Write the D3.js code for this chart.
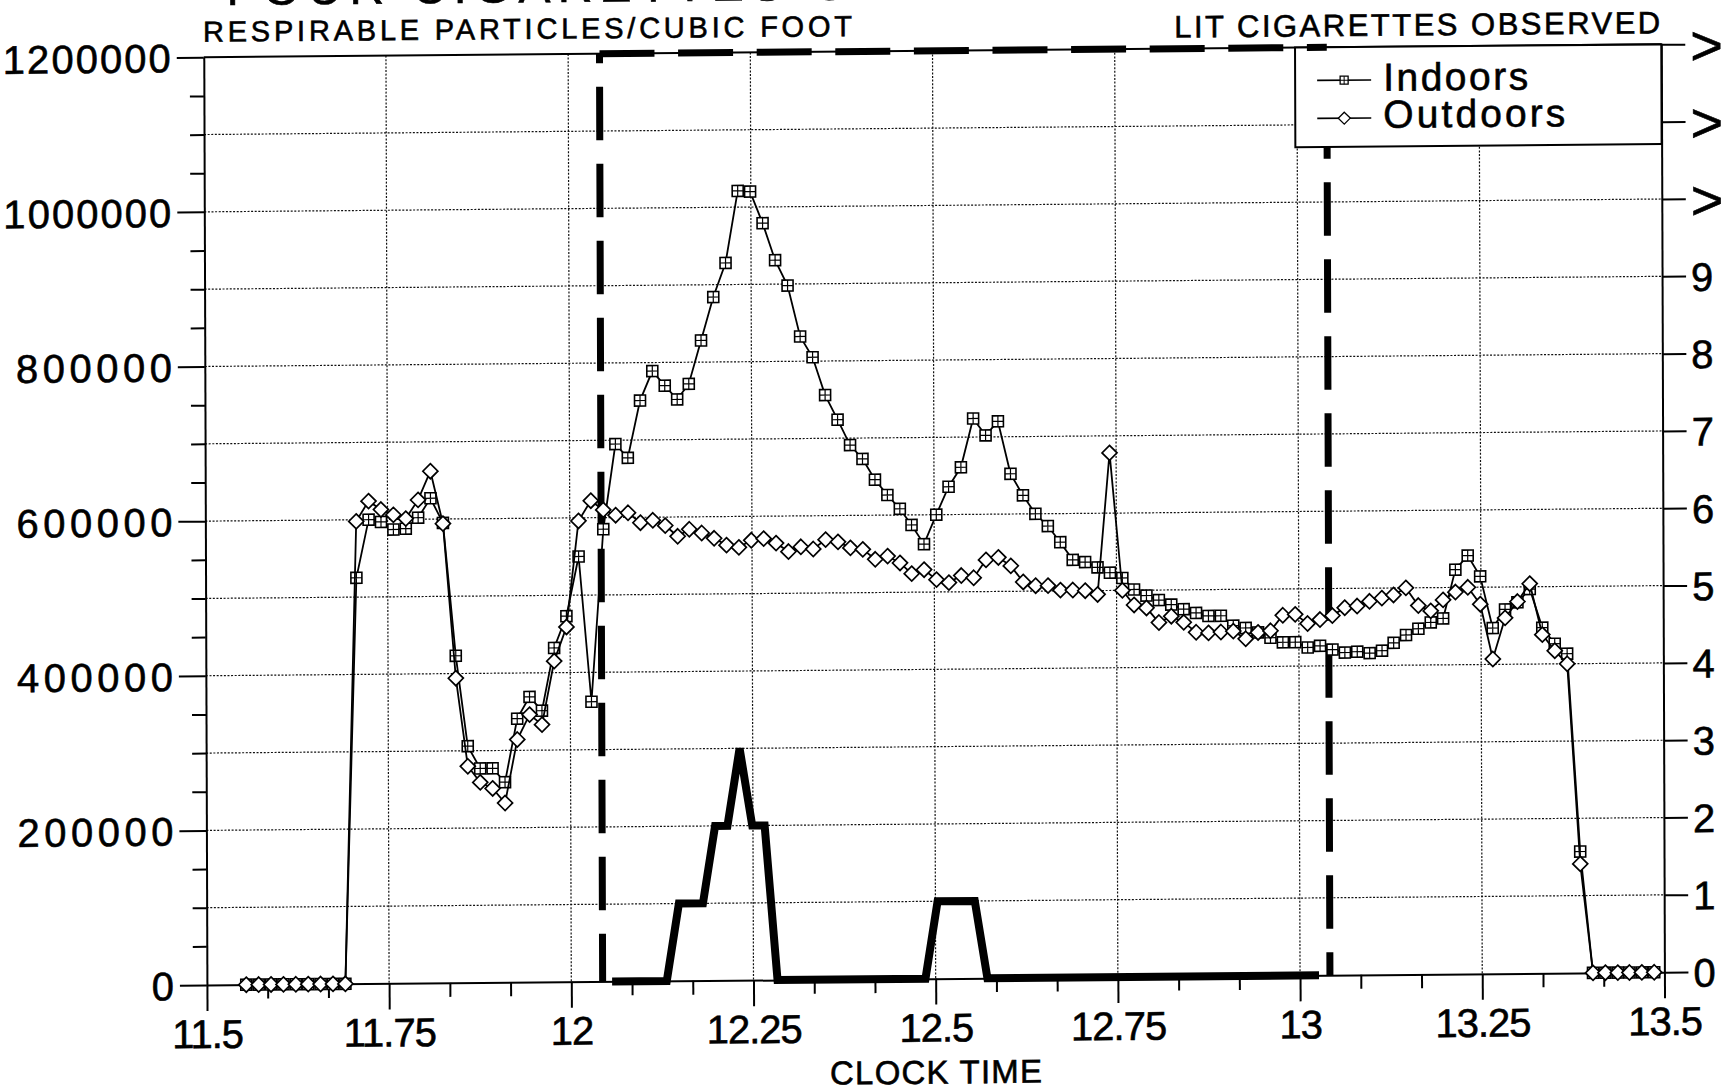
<!DOCTYPE html>
<html>
<head>
<meta charset="utf-8">
<script src="https://cdn.jsdelivr.net/npm/d3@7"></script>
<style>
  body { margin: 0; background: #fff; }
  svg { display: block; font-family: "Liberation Sans", Arial, sans-serif; }
  svg text { fill: #000; stroke: #000; stroke-width: 0.6px; }
</style>
</head>
<body>
<svg id="chart"></svg>
<script>
//constants
const svgW = 1724, svgH = 1091;
const margin = {top: 50.8, left: 205.35};
const width = 1457.5;
const height = 927.8;
// slight tilt of the scanned page
const pageTilt = "matrix(1,-0.00882,0.0034,1,-1.75,8.24)";

//data: one reading per minute (clock time in decimal hours)
const clockTimes = [
  11.554, 11.571, 11.588, 11.605, 11.622, 11.639, 11.656, 11.673, 11.690, 11.707,
  11.724, 11.741, 11.758, 11.775, 11.792, 11.809, 11.826, 11.843, 11.859, 11.876,
  11.893, 11.910, 11.927, 11.944, 11.961, 11.978, 11.995, 12.012, 12.029, 12.046,
  12.063, 12.080, 12.097, 12.114, 12.131, 12.148, 12.164, 12.181, 12.198, 12.215,
  12.232, 12.249, 12.266, 12.283, 12.300, 12.317, 12.334, 12.351, 12.368, 12.385,
  12.402, 12.419, 12.436, 12.453, 12.469, 12.486, 12.503, 12.520, 12.537, 12.554,
  12.571, 12.588, 12.605, 12.622, 12.639, 12.656, 12.673, 12.690, 12.707, 12.724,
  12.741, 12.758, 12.774, 12.791, 12.808, 12.825, 12.842, 12.859, 12.876, 12.893,
  12.910, 12.927, 12.944, 12.961, 12.978, 12.995, 13.012, 13.029, 13.046, 13.063,
  13.080, 13.097, 13.114, 13.130, 13.147, 13.164, 13.181, 13.198, 13.215, 13.232,
  13.249, 13.266, 13.283, 13.300, 13.317, 13.334, 13.351, 13.368, 13.385, 13.402,
  13.419, 13.436, 13.452, 13.469, 13.486
];

const indoors = [
  0, 0, 0, 0, 0, 0, 0, 0, 0, 525000,
  600000, 597000, 587000, 588000, 602000, 627000, 595000, 423000, 306000, 277000,
  277000, 259000, 341000, 369000, 351000, 432000, 473000, 550000, 362000, 585000,
  695000, 677000, 751000, 789000, 770000, 752000, 772000, 828000, 884000, 928000,
  1021000, 1020000, 979000, 931000, 898000, 832000, 805000, 756000, 724000, 691000,
  673000, 646000, 626000, 608000, 587000, 562000, 600000, 636000, 661000, 724000,
  702000, 720000, 652000, 624000, 600000, 584000, 563000, 540000, 537000, 530000,
  523000, 516000, 501000, 493000, 487000, 481000, 475000, 470000, 466000, 466000,
  453000, 450000, 444000, 437000, 431000, 431000, 424000, 426000, 421000, 417000,
  418000, 416000, 419000, 429000, 439000, 447000, 455000, 460000, 523000, 541000,
  514000, 447000, 471000, 480000, 497000, 447000, 426000, 413000, 157000, 0,
  0, 0, 0, 0, 0
];

const outdoors = [
  0, 0, 0, 0, 0, 0, 0, 0, 0, 598000,
  624000, 613000, 606000, 601000, 625000, 662000, 594000, 394000, 280000, 259000,
  251000, 232000, 314000, 346000, 333000, 415000, 459000, 596000, 622000, 610000,
  603000, 606000, 593000, 596000, 589000, 575000, 584000, 579000, 572000, 563000,
  560000, 569000, 571000, 565000, 554000, 560000, 557000, 569000, 566000, 558000,
  556000, 543000, 547000, 538000, 524000, 529000, 516000, 512000, 521000, 518000,
  541000, 544000, 533000, 512000, 507000, 507000, 501000, 501000, 500000, 495000,
  678000, 500000, 481000, 477000, 458000, 466000, 458000, 445000, 444000, 445000,
  446000, 436000, 444000, 446000, 466000, 467000, 455000, 460000, 465000, 475000,
  477000, 483000, 487000, 491000, 500000, 477000, 470000, 484000, 494000, 500000,
  478000, 407000, 460000, 481000, 504000, 438000, 417000, 400000, 141000, 0,
  0, 0, 0, 0, 0
];

// lit cigarettes observed (right axis), vertices of the thick line
const cigTimes = [12.056, 12.131, 12.148, 12.181, 12.198, 12.215, 12.232, 12.249, 12.266, 12.283, 12.486, 12.503, 12.554, 12.571, 13.026];
const cigCounts = [0, 0, 1, 1, 2, 2, 3, 2, 2, 0, 0, 1, 1, 0, 0];

// observation period (dashed box)
const periodStart = 12.043;
const periodEnd = 13.041;

//tick labels
const xTickLabels = ["11.5", "11.75", "12", "12.25", "12.5", "12.75", "13", "13.25", "13.5"];
const leftTickLabels = ["0", "200000", "400000", "600000", "800000", "1000000", "1200000"];
const rightTickLabels = ["0", "1", "2", "3", "4", "5", "6", "7", "8", "9", ">", ">", ">"];

// the plotter font: narrow "1", wide digits
function labelWidth(s) {
    return s.split("").reduce((w, c) => w + (c === "1" ? 12 : c === "." ? 11 : 26), 0);
}

//main
function main() {

    //scales
    let xScale = d3.scaleLinear().domain([11.5, 13.5]).range([0, width]);
    let yScale = d3.scaleLinear().domain([0, 1200000]).range([height, 0]);
    let yRight = d3.scaleLinear().domain([0, 12]).range([height, 0]);

    //canvas
    let svg = d3.select("#chart")
        .attr("width", svgW)
        .attr("height", svgH);
    svg.append("rect").attr("width", svgW).attr("height", svgH).attr("fill", "#fff");

    let page = svg.append("g").attr("transform", pageTilt);
    let g = page.append("g")
        .attr("transform", "translate(" + margin.left + "," + margin.top + ")");

    //grid
    let grid = g.append("g")
        .attr("stroke", "#111")
        .attr("stroke-width", 1.2)
        .attr("stroke-dasharray", "2,1.6");

    grid.selectAll(".hgrid")
        .data(d3.range(1, 12))
        .join("line")
        .attr("class", "hgrid")
        .attr("x1", 0).attr("x2", width)
        .attr("y1", d => yRight(d)).attr("y2", d => yRight(d));

    grid.selectAll(".vgrid")
        .data(xTickLabels.slice(1, -1).map(Number))
        .join("line")
        .attr("class", "vgrid")
        .attr("x1", d => xScale(d)).attr("x2", d => xScale(d))
        .attr("y1", 0).attr("y2", height);

    //frame top
    g.append("line")
        .attr("x1", 0).attr("x2", width)
        .attr("y1", yScale(1200000)).attr("y2", yScale(1200000))
        .attr("stroke", "#000").attr("stroke-width", 2);

    const fitText = function() {
        let s = d3.select(this).text();
        return s.length > 1 ? labelWidth(s) : null;
    };

    //axes
    const majorLeft = leftTickLabels.map(Number);
    let leftAxis = d3.axisLeft(yScale)
        .tickValues(d3.range(0, 1200001, 50000))
        .tickSize(27)
        .tickSizeOuter(0)
        .tickFormat(d => majorLeft.includes(d) ? leftTickLabels[majorLeft.indexOf(d)] : "");

    let gl = g.append("g").call(leftAxis)
        .attr("font-size", null).attr("font-family", null);
    gl.select(".domain").attr("stroke-width", 2);
    gl.selectAll(".tick line")
        .attr("stroke-width", 2)
        .attr("x2", d => majorLeft.includes(d) ? -27 : -14);
    gl.selectAll(".tick text")
        .attr("x", -33)
        .attr("dy", "0.36em")
        .style("font-size", "40px")
        .attr("textLength", fitText);

    const minorX = d3.range(25).map(k => 11.5 + k / 12);
    const labelFor = d => {
        let hit = xTickLabels.find(l => Math.abs(+l - d) < 1e-6);
        return hit === undefined ? "" : hit;
    };
    let bottomAxis = d3.axisBottom(xScale)
        .tickValues(minorX)
        .tickSize(26)
        .tickSizeOuter(0)
        .tickFormat(labelFor);

    let gb = g.append("g")
        .attr("transform", "translate(0," + height + ")")
        .call(bottomAxis)
        .attr("font-size", null).attr("font-family", null);
    gb.select(".domain").attr("stroke-width", 2);
    gb.selectAll(".tick line")
        .attr("stroke-width", 2)
        .attr("y2", d => labelFor(d) ? 26 : 14);
    gb.selectAll(".tick text")
        .attr("y", 63)
        .attr("dy", null)
        .style("font-size", "40px")
        .style("letter-spacing", "-1px");

    let rightAxis = d3.axisRight(yRight)
        .tickValues(d3.range(0, 13))
        .tickSize(24)
        .tickSizeOuter(0)
        .tickPadding(5)
        .tickFormat(d => rightTickLabels[d]);

    let gr = g.append("g")
        .attr("transform", "translate(" + width + ",0)")
        .call(rightAxis)
        .attr("font-size", null).attr("font-family", null);
    gr.select(".domain").attr("stroke-width", 2);
    gr.selectAll(".tick line").attr("stroke-width", 2);
    gr.selectAll(".tick text")
        .attr("dy", "0.36em")
        .style("font-size", d => d > 9 ? "56px" : "40px");

    //observation period, dashed
    let dash = g.append("g").attr("stroke", "#000").attr("stroke-width", 7).attr("fill", "none");
    dash.append("line")
        .attr("x1", xScale(periodStart)).attr("x2", xScale(periodStart))
        .attr("y1", yScale(1200000)).attr("y2", yScale(0))
        .attr("stroke-dasharray", "53.5,23.5")
        .attr("stroke-dashoffset", 44);
    dash.append("line")
        .attr("x1", xScale(periodEnd)).attr("x2", xScale(periodEnd))
        .attr("y1", yScale(1200000)).attr("y2", yScale(0))
        .attr("stroke-dasharray", "53.5,23.5")
        .attr("stroke-dashoffset", 19);

    //cigarettes line
    let cigData = cigTimes.map((t, i) => ({x: t, y: cigCounts[i]}));
    g.append("path")
        .datum(cigData)
        .attr("fill", "none")
        .attr("stroke", "#000")
        .attr("stroke-width", 8)
        .attr("d", d3.line()
            .x(d => xScale(d.x))
            .y(d => yRight(d.y)));

    //particle series
    let line = d3.line()
        .x(d => xScale(d.x))
        .y(d => yScale(d.y));

    let inData = clockTimes.map((t, i) => ({x: t, y: indoors[i]}));
    let outData = clockTimes.map((t, i) => ({x: t, y: outdoors[i]}));

    g.append("path")
        .datum(inData)
        .attr("fill", "none").attr("stroke", "#000").attr("stroke-width", 1.8)
        .attr("d", line);

    let sq = g.append("g").selectAll("g")
        .data(inData)
        .join("g")
        .attr("transform", d => "translate(" + xScale(d.x) + "," + yScale(d.y) + ")");
    sq.append("rect")
        .attr("x", -5.5).attr("y", -5.5).attr("width", 11).attr("height", 11)
        .attr("fill", "#fff").attr("stroke", "#000").attr("stroke-width", 1.6);
    sq.append("path")
        .attr("d", "M-5.5,0H5.5M0,-5.5V5.5")
        .attr("stroke", "#000").attr("stroke-width", 1.2);

    g.append("path")
        .datum(outData)
        .attr("fill", "none").attr("stroke", "#000").attr("stroke-width", 1.8)
        .attr("d", line);

    g.append("g").selectAll("path")
        .data(outData)
        .join("path")
        .attr("d", "M0,-7.5L7.5,0L0,7.5L-7.5,0Z")
        .attr("transform", d => "translate(" + xScale(d.x) + "," + yScale(d.y) + ")")
        .attr("fill", "#fff").attr("stroke", "#000").attr("stroke-width", 1.7);

    //legend
    let lx = width - 366.25;
    let legend = g.append("g").attr("transform", "translate(" + lx + ",0)");
    legend.append("rect")
        .attr("x", 0).attr("y", 0).attr("width", 366.25).attr("height", 99.6)
        .attr("fill", "#fff").attr("stroke", "#000").attr("stroke-width", 2);

    legend.append("line").attr("x1", 22).attr("x2", 76).attr("y1", 33).attr("y2", 33)
        .attr("stroke", "#000").attr("stroke-width", 1.6);
    legend.append("rect").attr("x", 45).attr("y", 29).attr("width", 8).attr("height", 8)
        .attr("fill", "#fff").attr("stroke", "#000").attr("stroke-width", 1.3);
    legend.append("path").attr("d", "M45,33H53M49,29V37")
        .attr("stroke", "#000").attr("stroke-width", 1);
    legend.append("text")
        .attr("x", 88).attr("y", 44)
        .attr("textLength", 145)
        .style("font-size", "39px")
        .text("Indoors");

    legend.append("line").attr("x1", 22).attr("x2", 76).attr("y1", 71).attr("y2", 71)
        .attr("stroke", "#000").attr("stroke-width", 1.6);
    legend.append("path").attr("d", "M49,65L55,71L49,77L43,71Z")
        .attr("fill", "#fff").attr("stroke", "#000").attr("stroke-width", 1.3);
    legend.append("text")
        .attr("x", 88).attr("y", 81)
        .attr("textLength", 182)
        .style("font-size", "39px")
        .text("Outdoors");

    //top edge of the dashed box, over the legend border
    g.append("line")
        .attr("x1", xScale(periodStart)).attr("x2", xScale(periodEnd))
        .attr("y1", yScale(1200000)).attr("y2", yScale(1200000))
        .attr("stroke", "#000").attr("stroke-width", 7)
        .attr("stroke-dasharray", "55,23.6");

    //titles (the first one is cut by the page edge in the scan)
    g.append("text")
        .attr("x", 23).attr("y", -52)
        .attr("textLength", 900)
        .style("font-size", "48px")
        .text("FOUR CIGARETTES OBSERVED");

    g.append("text")
        .attr("x", -0.7).attr("y", -15.5)
        .attr("textLength", 649)
        .style("font-size", "29px")
        .text("RESPIRABLE PARTICLES/CUBIC FOOT");

    g.append("text")
        .attr("x", width - 487).attr("y", -11.1)
        .attr("textLength", 486)
        .style("font-size", "31px")
        .text("LIT CIGARETTES OBSERVED");

    //axis label
    g.append("text")
        .attr("x", width / 2 - 106).attr("y", height + 105)
        .attr("textLength", 212)
        .style("font-size", "33px")
        .text("CLOCK TIME");
}

main();
</script>
</body>
</html>
